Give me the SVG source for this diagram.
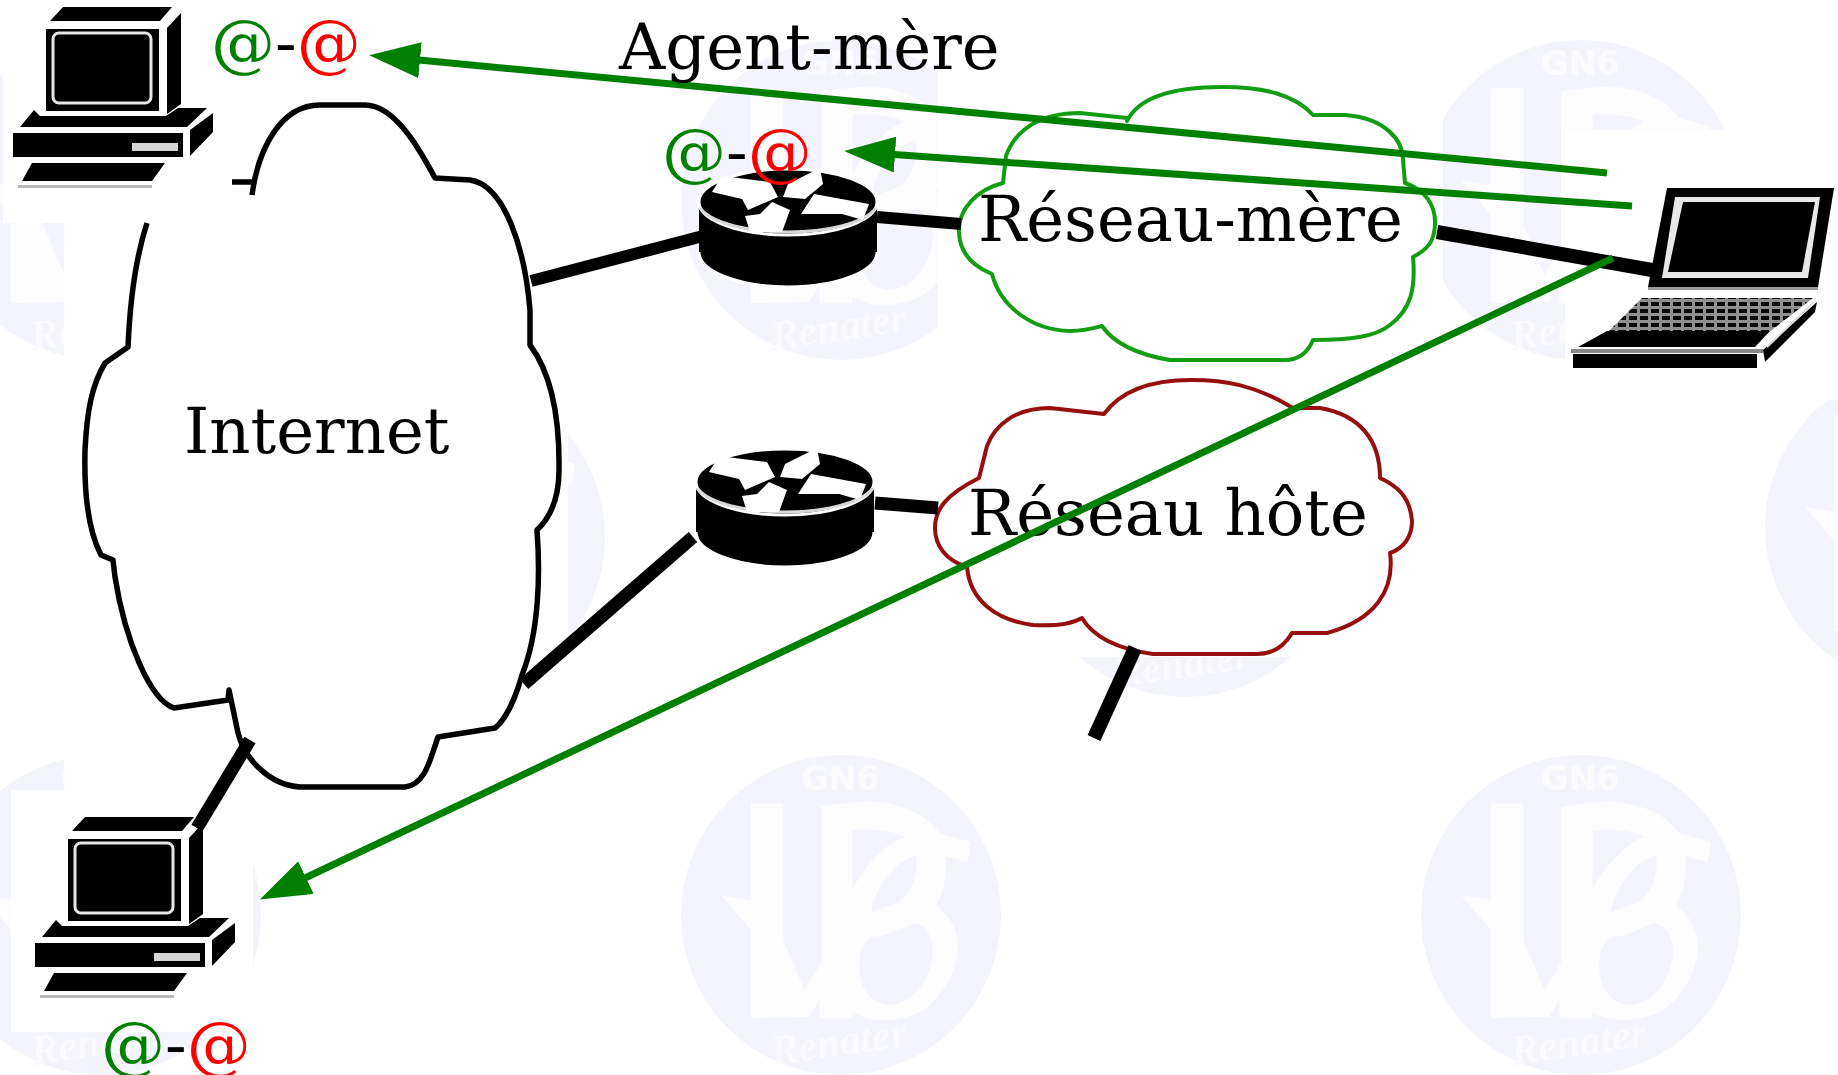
<svg xmlns="http://www.w3.org/2000/svg" width="1838" height="1075" viewBox="0 0 1838 1075">
<style>
text{font-family:"DejaVu Serif","Liberation Serif",serif;fill:#000}
.lbl{font-size:64px}
.at{font-size:64px}
.g{fill:#008000}
.r{fill:#ff0000}
.wire{stroke:#000;fill:none;stroke-linecap:butt}
.arr{stroke:#008000;stroke-width:7;fill:none;marker-end:url(#head)}
.cloud{fill:#fff;stroke-linejoin:round}
.patch{fill:#fff}
.wmt{fill:#fcfcff;font-family:"DejaVu Sans",sans-serif;font-weight:bold;font-size:100px}
.wmr{fill:#fafaff;font-family:"Liberation Serif",serif;font-style:italic;font-weight:bold;font-size:125px}
</style>
<defs>
<marker id="head" markerUnits="userSpaceOnUse" markerWidth="52" markerHeight="36" viewBox="0 0 52 36" refX="1" refY="18" orient="auto"><path d="M51,18 L0,0 L0,36 Z" fill="#008000"/></marker>
<pattern id="keys" patternUnits="userSpaceOnUse" width="11" height="7"><rect width="11" height="7" fill="#909090"/><rect x="1" y="1" width="8" height="4" fill="#0a0a0a"/></pattern>
<g id="wm">
<circle r="160" fill="#f4f4fd"/>
<g transform="translate(-181.7,-195) scale(.3333)">
<path fill="#fdfdfe" fill-rule="evenodd" d="M275,250 L372,250 L372,660 L435,810 L485,730 L485,260 C540,250 600,245 640,245 C720,250 800,280 840,340 L935,365 L925,425 L860,410 C860,470 855,520 830,555 C870,590 895,620 895,680 C895,770 830,860 760,885 C720,900 640,915 580,875 L580,895 L480,895 L480,840 L450,890 L275,895 L275,630 L185,525 L275,540 Z M580,330 C630,325 700,330 735,350 C670,375 620,440 580,505 Z M770,405 C780,470 750,530 710,550 L635,575 C650,500 700,430 770,405 Z M640,650 C690,650 730,620 770,610 C810,620 825,670 820,710 C810,790 750,855 690,855 C630,850 600,800 600,740 C600,690 615,660 640,650 Z"/>
<text class="wmt" x="543" y="210" text-anchor="middle">GN6</text>
<text class="wmr" x="340" y="1035" transform="rotate(-8 340 1035)">Renater</text>
</g>
</g>
<g id="computer">
<path d="M63,7 L172,7 L160,21 L50,21 Z" fill="#000"/>
<rect x="46" y="29" width="113" height="82" fill="#000"/>
<rect x="53" y="33" width="98" height="70" rx="6" fill="#000" stroke="#e6e6e6" stroke-width="3"/>
<path d="M167,28 L181,13 L181,104 L167,114 Z" fill="#000"/>
<path d="M20,127 L34,110 L40,116 L166,116 L178,108 L207,108 L187,127 Z" fill="#000"/>
<rect x="13" y="133" width="170" height="24" fill="#000"/>
<rect x="132" y="143" width="46" height="8" fill="#d5d5d5"/>
<path d="M190,130 L213,113 L213,132 L190,156 Z" fill="#000"/>
<path d="M22,181 L32,163 L165,163 L152,181 Z" fill="#000"/>
<rect x="18" y="185" width="134" height="3" fill="#b8b8b8"/>
</g>
<g id="router">
<ellipse cx="788" cy="252" rx="89" ry="35" fill="#000" stroke="#fff" stroke-width="3"/>
<rect x="699" y="203" width="178" height="49" fill="#000"/>
<ellipse cx="788" cy="202" rx="89" ry="33" fill="#000" stroke="#fff" stroke-width="3"/>
<path d="M700,208 C725,240 851,240 876,208" fill="none" stroke="#d8d8d8" stroke-width="3"/>
<path d="M722,176 L770,182 L778,197 L748,210 L742,199 L712,192 Z M788,184 L820,168 L823,184 L805,199 L783,197 Z M814,194 L869,204 L863,220 L842,214 L801,214 Z M772,202 L790,210 L782,232 L750,232 L745,216 L760,214 Z" fill="#fff"/>
</g>
</defs>
<rect width="1838" height="1075" fill="#fff"/>
<g id="watermark">
<use href="#wm" x="101" y="200"/><use href="#wm" x="841" y="200"/><use href="#wm" x="1581" y="200"/>
<use href="#wm" x="445" y="537"/><use href="#wm" x="1185" y="537"/><use href="#wm" x="1925" y="527"/>
<use href="#wm" x="101" y="915"/><use href="#wm" x="841" y="915"/><use href="#wm" x="1581" y="915"/>
<rect class="patch" x="3" y="0" width="232" height="223"/>
<rect class="patch" x="64" y="60" width="504" height="730"/>
<rect class="patch" x="11" y="790" width="242" height="242"/>
<rect class="patch" x="938" y="50" width="505" height="320"/>
<rect class="patch" x="1565" y="130" width="273" height="270"/>
<rect class="patch" x="930" y="370" width="490" height="287"/>
</g>
<g id="internet">
<path fill="none" stroke="#000" stroke-width="5.5" stroke-linejoin="round" d="M252,195 C258,150 280,105 320,105 L365,105 C395,105 420,150 435,178 L470,180 C505,185 525,250 530,310 L530,345 C545,365 560,400 559,470 C559,495 553,515 537,530 C540,570 540,630 522,675 C515,700 505,720 495,728 L438,737 C430,760 425,785 405,787 L300,787 C270,785 245,760 238,733 L229,690 L228,700 L174,708 C150,700 125,640 115,577 L113,560 L101,555 C88,530 84,490 85,450 C87,410 92,385 105,363 L128,347 C130,300 135,260 147,223 M232,182 L252,182"/>
<text class="lbl" x="184" y="453">Internet</text>
</g>
<g id="reseau-mere">
<path class="cloud" stroke="#129d12" stroke-width="4" d="M1127,121 C1140,95 1180,87 1222,87 C1265,87 1295,95 1313,115 L1345,115 C1385,118 1403,140 1403,160 L1405,183 C1425,190 1436,205 1435,225 C1434,240 1430,248 1413,257 C1416,290 1410,310 1390,325 C1375,337 1350,340 1313,340 C1308,352 1300,360 1285,360 L1170,360 C1140,355 1115,345 1102,326 C1095,328 1085,331 1070,331 C1030,330 1000,305 992,274 C970,265 958,250 959,228 C960,210 975,190 1003,183 L1006,156 C1015,130 1040,113 1080,113 L1127,118 Z"/>
<text class="lbl" x="978" y="241">Réseau-mère</text>
</g>
<g id="reseau-hote">
<path class="cloud" stroke="#960f0f" stroke-width="4" d="M1104,414 C1120,392 1150,380 1191,380 C1225,380 1255,385 1293,408 L1320,408 C1360,415 1380,440 1380,478 C1395,485 1410,495 1412,521 C1412,535 1405,548 1390,553 C1395,590 1375,620 1327,633 L1292,633 C1285,645 1275,654 1257,654 L1153,654 C1125,650 1095,640 1082,618 C1070,625 1050,626 1033,625 C995,620 970,600 967,567 C945,560 935,545 935,528 C935,510 945,495 979,478 L987,446 C995,425 1015,408 1050,408 L1104,414 Z"/>
<text class="lbl" x="968" y="535">Réseau hôte</text>
</g>
<g id="router-1"><use href="#router"/></g>
<g id="router-2"><use href="#router" x="-3" y="280"/></g>
<g id="computer-1"><use href="#computer"/></g>
<g id="computer-2"><use href="#computer" x="22" y="810"/></g>
<g id="laptop">
<path d="M1667,188 L1834,188 L1818,287 L1648,287 Z" fill="#000"/>
<path d="M1675,197 L1820,197 L1808,278 L1662,278 Z" fill="#e8e8e8"/>
<path d="M1683,202 L1815,202 L1802,272 L1668,272 Z" fill="#000"/>
<rect x="1648" y="287" width="170" height="3" fill="#999"/>
<path d="M1642,298 L1813,298 L1768,333 L1607,333 Z" fill="url(#keys)"/>
<path d="M1607,331 L1770,331 L1755,347 L1578,347 Z" fill="#000"/>
<rect x="1571" y="349" width="192" height="4" fill="#888"/>
<rect x="1573" y="354" width="184" height="14" fill="#000"/>
<path d="M1763,350 L1817,302 L1815,312 L1765,362 Z" fill="#000"/>
<path d="M1767,347 L1812,304" stroke="#ddd" stroke-width="2" fill="none"/>
</g>
<g id="connectors">
<path class="wire" stroke-width="12" d="M531,281 L703,236"/>
<path class="wire" stroke-width="12" d="M877,217 L961,224"/>
<path class="wire" stroke-width="14" d="M1437,232 L1652,270"/>
<path class="wire" stroke-width="13" d="M875,503 L938,508"/>
<path class="wire" stroke-width="13" d="M524,684 L693,537"/>
<path class="wire" stroke-width="13" d="M250,740 L197,828"/>
<path class="wire" stroke-width="14" d="M1135,648 L1094,738"/>
<path class="arr" d="M1607,173 L419,60"/>
<path class="arr" d="M1632,206 L894,154.5"/>
<path class="arr" d="M1613,258 L305,878"/>
</g>
<g id="labels">
<text class="lbl" x="619" y="69">Agent-mère</text>
<text class="at" x="211" y="65"><tspan class="g">@</tspan>-<tspan class="r">@</tspan></text>
<text class="at" x="662" y="174"><tspan class="g">@</tspan>-<tspan class="r">@</tspan></text>
<text class="at" x="101" y="1067"><tspan class="g">@</tspan>-<tspan class="r">@</tspan></text>
</g>
</svg>
